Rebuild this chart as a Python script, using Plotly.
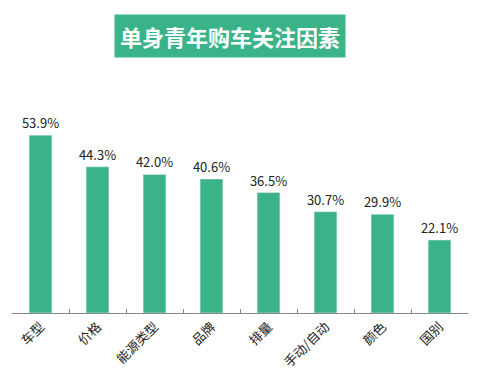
import plotly.graph_objects as go

categories = ["车型", "价格", "能源类型", "品牌", "排量", "手动/自动", "颜色", "国别"]
values = [53.9, 44.3, 42.0, 40.6, 36.5, 30.7, 29.9, 22.1]
labels = [f"{v:.1f}%" for v in values]

green = "#3BB389"
font = "Noto Sans CJK SC, Noto Sans, sans-serif"

fig = go.Figure(go.Bar(
    x=categories, y=values, text=labels, textposition="outside",
    marker_color=green, textfont=dict(size=13, color="#222222", family=font),
    cliponaxis=False, constraintext="none",
))

fig.update_layout(
    width=482, height=380,
    margin=dict(l=12, r=14, t=115, b=67, autoexpand=False),
    plot_bgcolor="white", paper_bgcolor="white",
    bargap=0.6, showlegend=False,
    font=dict(family=font),
    xaxis=dict(showline=True, linecolor="#888888", linewidth=1, automargin=False,
               ticks="inside", tickson="boundaries", ticklen=4, tickcolor="#888888",
               tickangle=-45, tickfont=dict(size=13, color="#222222")),
    yaxis=dict(range=[0, 60], visible=False),
    annotations=[dict(
        text="<b>单身青年购车关注因素</b>", xref="paper", yref="paper",
        x=0.5, y=1, xanchor="center", yanchor="bottom", yshift=57, xshift=-10,
        showarrow=False, bgcolor=green, borderpad=5,
        font=dict(size=22, color="white", family=font),
    )],
)

fig.write_html("out.html", config={"displayModeBar": False},
               post_script="document.body.style.margin='0';")
